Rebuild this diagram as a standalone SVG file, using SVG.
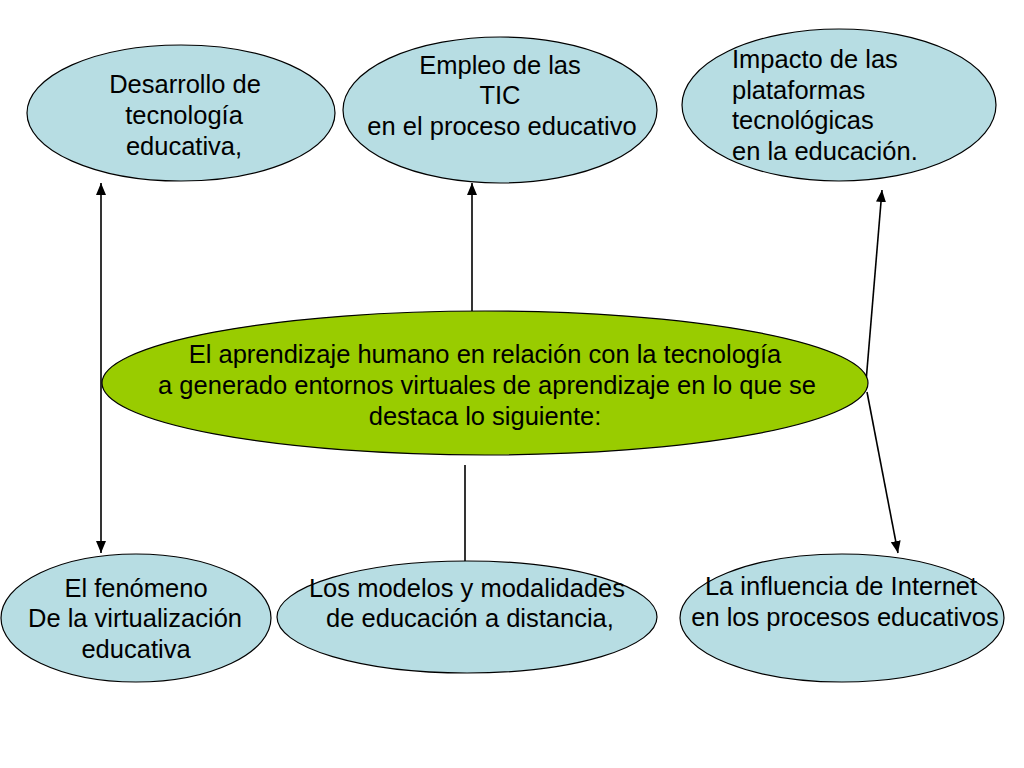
<svg xmlns="http://www.w3.org/2000/svg" width="1024" height="768" viewBox="0 0 1024 768">
<defs>
<marker id="ah" viewBox="0 0 12 10" refX="12" refY="5" markerWidth="12" markerHeight="10" markerUnits="userSpaceOnUse" orient="auto">
<path d="M0,0 L12,5 L0,10 z" fill="#000"/>
</marker>
<marker id="as" viewBox="0 0 12 10" refX="0" refY="5" markerWidth="12" markerHeight="10" markerUnits="userSpaceOnUse" orient="auto">
<path d="M12,0 L0,5 L12,10 z" fill="#000"/>
</marker>
</defs>
<style>
.n{fill:#b7dde3;stroke:#000;stroke-width:1.2}
.c{fill:#99cc00;stroke:#000;stroke-width:1.2}
.t{font-family:"Liberation Sans",Arial,sans-serif;font-size:25.5px;fill:#000;text-anchor:middle}
.l{text-anchor:start}
.e{stroke:#000;stroke-width:1.6;fill:none}
</style>
<rect width="1024" height="768" fill="#fff"/>
<g id="connectors">
<line class="e" x1="101" y1="183" x2="101" y2="553" marker-start="url(#as)" marker-end="url(#ah)"/>
<line class="e" x1="472" y1="311" x2="472" y2="183" marker-end="url(#ah)"/>
<line class="e" x1="465" y1="465" x2="465" y2="562"/>
<line class="e" x1="866" y1="382" x2="882" y2="190" marker-end="url(#ah)"/>
<line class="e" x1="867" y1="392" x2="898" y2="553" marker-end="url(#ah)"/>
</g>
<g id="n1">
<ellipse class="n" cx="181" cy="113" rx="154" ry="68"/>
<text class="t" x="185" y="93">Desarrollo de</text>
<text class="t" x="184" y="124">tecnología</text>
<text class="t" x="184" y="155">educativa,</text>
</g>
<g id="n2">
<ellipse class="n" cx="500" cy="110" rx="157" ry="73"/>
<text class="t" x="500" y="74">Empleo de las</text>
<text class="t" x="500" y="104">TIC</text>
<text class="t" x="502" y="135">en el proceso educativo</text>
</g>
<g id="n3">
<ellipse class="n" cx="839" cy="105" rx="157" ry="76"/>
<text class="t l" x="732" y="68">Impacto de las</text>
<text class="t l" x="732" y="99">plataformas</text>
<text class="t l" x="732" y="129">tecnológicas</text>
<text class="t l" x="732" y="160">en la educación.</text>
</g>
<g id="center">
<ellipse class="c" cx="485" cy="383" rx="383" ry="72"/>
<text class="t" x="485" y="363">El aprendizaje humano en relación con la tecnología</text>
<text class="t" x="487" y="394">a generado entornos virtuales de aprendizaje en lo que se</text>
<text class="t" x="485" y="425">destaca lo siguiente:</text>
</g>
<g id="n4">
<ellipse class="n" cx="136" cy="618" rx="135" ry="64"/>
<text class="t" x="136" y="597">El fenómeno</text>
<text class="t" x="135" y="627">De la virtualización</text>
<text class="t" x="136" y="658">educativa</text>
</g>
<g id="n5">
<ellipse class="n" cx="467" cy="617" rx="190" ry="56"/>
<text class="t" x="467" y="597">Los modelos y modalidades</text>
<text class="t" x="470" y="627">de educación a distancia,</text>
</g>
<g id="n6">
<ellipse class="n" cx="842" cy="618" rx="162" ry="64"/>
<text class="t" x="841" y="595">La influencia de Internet</text>
<text class="t" x="845" y="626">en los procesos educativos</text>
</g>
</svg>
